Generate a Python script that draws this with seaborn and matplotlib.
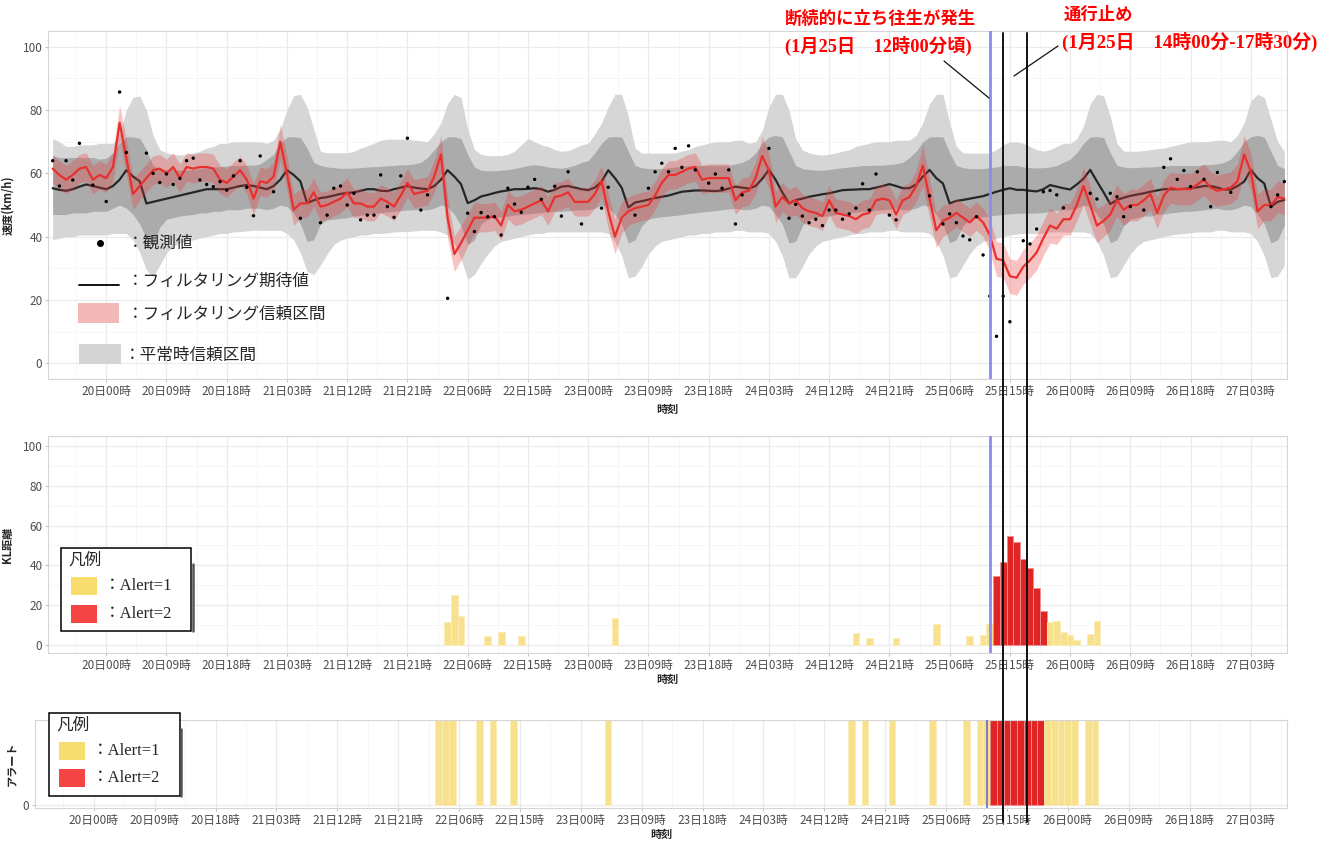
import numpy as np
import pandas as pd
import matplotlib
matplotlib.use("Agg")
import matplotlib.pyplot as plt
import matplotlib.dates as mdates
from matplotlib.lines import Line2D
from matplotlib.patches import Rectangle
from matplotlib.ticker import MultipleLocator, FixedLocator
from matplotlib.transforms import blended_transform_factory
import seaborn as sns

nan = np.nan

# ---------------------------------------------------------------- data
START = "2021-01-19 16:00"          # first hourly sample
N_HOURS = 185

# observed speed (km/h), hourly, nan = no observation
speed_obs = [
    64.0, 56.0, 64.0, 57.9, 69.5, nan, 56.3, nan,
    51.1, nan, 85.7, 66.6, nan, nan, 66.4, 60.0, 57.1, 59.8, 56.5, 58.4, 64.0, 64.8, 57.9, 56.5, 55.8, 57.4, 54.7, 59.2, 64.0, 55.6, 46.6, 65.5,
    nan, 54.2, nan, nan, nan, 45.8, nan, nan, 44.4, 46.8, 55.3, 56.0, 50.0, 53.7, 45.3, 46.8, 46.8, 59.5, 49.5, 46.1, 59.2, 71.1, nan, 48.4,
    53.2, nan, nan, 20.5, nan, nan, 47.4, 41.6, 47.6, 46.3, 46.3, 40.5, 55.3, 50.3, 47.7, 55.6, 58.1, 51.8, nan, 55.9, 46.5, 60.5, nan, 44.0,
    nan, nan, 49.0, 55.6, nan, nan, nan, 46.8, nan, 55.3, 60.5, 63.2, 60.5, 67.9, 61.9, 68.7, 61.1, nan, 56.9, 59.8, 55.3, 61.1, 44.0, 53.2,
    nan, nan, nan, 67.9, nan, nan, 45.8, 50.2, 46.5, 44.4, 45.5, 43.5, 48.4, 48.4, 45.5, 47.2, 49.0, 56.7, 48.4, 59.8, nan, 46.8, 45.3, nan,
    nan, nan, nan, 52.9, nan, 44.0, 47.2, 44.4, 40.2, 39.0, 46.3, 34.2, 21.2, 8.5, 21.2, 13.1, nan, 38.7, 37.7, 42.4, 54.2, 54.6, 53.2, 49.1,
    nan, nan, nan, 53.7, 51.9, nan, 53.7, 52.6, 46.3, 49.5, nan, 48.4, nan, nan, 61.9, 64.6, 58.1, 60.9, 55.8, 60.5, 58.1, 49.5, 60.3, nan,
    54.0, nan, nan, nan, nan, nan, 49.5, 53.2, 57.4,
]

# filtered speed estimate and half-width of its confidence interval
filtered_mean = [
    61.5, 59.5, 58.0, 59.5, 61.5, 62.0, 58.0, 59.5,
    58.5, 62.0, 76.0, 65.0, 53.5, 56.0, 58.5, 61.0, 61.5, 60.0, 62.0, 58.5, 62.0, 61.5, 62.0, 62.0, 61.5, 58.0, 57.0, 59.0, 61.0, 58.0, 52.0, 57.5,
    57.0, 59.0, 70.0, 60.0, 48.5, 50.5, 50.5, 54.0, 49.5, 50.0, 51.0, 52.0, 54.0, 50.5, 50.5, 49.5, 49.5, 52.0, 51.0, 49.5, 53.0, 57.0, 53.5, 54.0,
    54.5, 59.0, 66.0, 46.0, 34.5, 38.0, 42.0, 46.0, 46.0, 46.0, 46.5, 43.5, 50.0, 48.0, 48.5, 49.5, 50.5, 51.5, 48.0, 52.5, 53.0, 54.0, 51.0, 51.0,
    51.0, 53.5, 57.5, 48.0, 40.0, 46.0, 48.0, 49.0, 49.5, 50.0, 53.0, 57.0, 59.5, 59.5, 60.5, 61.5, 62.0, 58.0, 58.5, 58.5, 58.5, 58.5, 51.5, 54.0,
    54.5, 58.5, 65.5, 61.0, 49.5, 52.5, 50.5, 51.5, 49.0, 48.0, 47.5, 46.5, 51.5, 47.5, 47.0, 46.5, 45.5, 47.0, 47.5, 51.5, 52.0, 51.5, 47.0, 51.5,
    52.5, 56.0, 62.5, 52.0, 42.0, 45.0, 46.0, 47.5, 46.0, 44.5, 46.5, 44.5, 40.5, 33.0, 32.5, 27.5, 27.0, 30.5, 32.5, 35.0, 39.5, 43.5, 42.5, 45.5,
    45.5, 50.0, 56.0, 50.0, 43.5, 45.0, 47.0, 51.5, 48.5, 50.0, 50.0, 51.5, 53.5, 47.5, 53.0, 55.5, 55.0, 55.0, 55.0, 56.5, 58.0, 55.5, 54.5, 55.0,
    55.5, 57.5, 66.0, 60.5, 48.0, 50.0, 50.0, 52.5, 52.0,
]
filtered_halfwidth = [
    4.5, 4.5, 4.5, 4.5, 4.5, 4.5, 4.5, 4.5,
    4.5, 4.5, 5.5, 5.5, 5.0, 4.5, 4.5, 4.5, 4.5, 4.5, 4.5, 4.5, 4.5, 4.5, 4.5, 4.5, 4.5, 4.5, 4.5, 4.5, 4.5, 4.5, 5.0, 4.5,
    4.5, 4.5, 5.5, 5.5, 5.0, 4.5, 4.5, 4.5, 4.5, 4.5, 4.5, 4.5, 4.5, 4.5, 4.5, 4.5, 4.5, 4.5, 4.5, 4.5, 4.5, 4.5, 4.5, 4.5,
    4.5, 5.0, 6.0, 6.5, 5.5, 5.5, 5.0, 5.0, 4.5, 4.5, 4.5, 4.5, 4.5, 4.5, 4.5, 4.5, 4.5, 4.5, 4.5, 4.5, 4.5, 4.5, 4.5, 4.5,
    4.5, 4.5, 5.0, 5.5, 5.5, 5.0, 4.5, 4.5, 4.5, 4.5, 4.5, 4.5, 4.5, 4.5, 4.5, 4.5, 4.5, 4.5, 4.5, 4.5, 4.5, 4.5, 4.5, 4.5,
    4.5, 5.0, 6.0, 5.5, 5.0, 4.5, 4.5, 4.5, 4.5, 4.5, 4.5, 4.5, 4.5, 4.5, 4.5, 4.5, 4.5, 4.5, 4.5, 4.5, 4.5, 4.5, 4.5, 4.5,
    4.5, 5.0, 6.5, 6.0, 5.5, 5.0, 4.5, 4.5, 4.5, 4.5, 4.5, 4.5, 5.0, 5.5, 5.5, 5.5, 5.5, 5.5, 5.5, 5.5, 5.5, 5.5, 5.0, 5.0,
    5.0, 5.0, 6.0, 6.0, 5.5, 5.0, 5.0, 5.0, 5.0, 5.0, 5.0, 5.0, 5.0, 5.0, 5.0, 5.0, 5.0, 5.0, 5.0, 5.0, 5.0, 5.0, 5.0, 5.0,
    5.0, 5.5, 6.0, 6.0, 5.5, 5.0, 5.0, 5.0, 5.0,
]

# normal-condition expected speed and its confidence bands
normal_mean = [
    55.3, 54.8, 54.5, 55.0, 55.8, 56.5, 56.0, 55.5,
    55.0, 56.0, 58.0, 61.0, 59.0, 57.5, 50.5, 51.0, 51.5, 52.0, 52.5, 53.0, 53.5, 54.0, 54.5, 55.0, 55.0, 55.0, 55.0, 55.5, 56.0, 56.3, 56.0, 55.5,
    55.0, 56.0, 58.0, 61.0, 59.5, 57.5, 50.6, 51.5, 52.2, 52.5, 53.0, 53.5, 53.8, 54.0, 54.5, 55.0, 55.0, 54.5, 54.4, 55.0, 55.5, 56.0, 55.5, 55.2,
    55.0, 56.0, 58.0, 61.0, 59.0, 56.6, 50.6, 51.5, 52.7, 53.2, 53.8, 54.3, 54.6, 55.0, 55.0, 55.1, 55.3, 55.0, 54.2, 54.8, 55.8, 56.0, 55.5, 55.0,
    54.7, 55.5, 57.4, 61.0, 58.5, 55.5, 49.2, 50.8, 51.2, 51.7, 52.2, 52.6, 53.0, 53.6, 54.2, 54.4, 54.6, 54.6, 54.5, 54.4, 54.6, 55.2, 55.8, 55.5,
    55.2, 56.0, 58.3, 61.1, 58.0, 54.0, 50.5, 51.6, 52.0, 52.6, 53.0, 53.4, 53.7, 54.2, 54.7, 54.8, 54.9, 55.0, 55.0, 55.5, 56.0, 56.6, 56.0, 55.3,
    55.3, 56.5, 59.0, 61.1, 58.5, 56.8, 50.5, 51.3, 51.6, 52.0, 52.4, 52.8, 53.5, 54.2, 54.8, 55.3, 54.8, 54.8, 54.5, 54.3, 55.0, 56.3, 55.8, 55.3,
    54.9, 56.5, 58.3, 61.1, 57.5, 54.0, 50.3, 51.6, 52.3, 52.9, 53.3, 53.7, 54.2, 54.6, 55.0, 55.0, 55.0, 55.1, 55.3, 55.6, 56.0, 56.0, 55.5, 54.9,
    54.9, 56.0, 57.4, 61.1, 58.5, 56.8, 49.5, 51.0, 51.6,
]
normal_upper_outer = [
    71.0, 70.0, 68.5, 68.5, 69.0, 69.0, 69.0, 69.5,
    69.5, 69.5, 72.5, 80.0, 84.0, 84.5, 80.0, 72.0, 67.5, 66.5, 66.0, 65.8, 66.0, 66.5, 67.0, 68.0, 68.5, 69.5, 69.5, 70.0, 70.0, 70.0, 70.0, 70.0,
    69.5, 70.5, 74.0, 80.0, 84.5, 85.0, 81.0, 74.0, 67.0, 66.5, 66.5, 66.5, 66.5, 67.0, 68.0, 68.7, 69.5, 70.5, 70.8, 70.8, 70.8, 70.8, 70.5, 70.3,
    70.0, 72.5, 76.0, 82.0, 85.0, 84.0, 74.0, 67.5, 66.0, 65.6, 65.6, 65.6, 66.0, 67.0, 69.0, 71.0, 70.0, 69.0, 68.5, 67.5, 67.0, 67.2, 68.0, 69.0,
    69.5, 72.5, 76.0, 81.0, 85.0, 85.0, 78.0, 68.0, 66.4, 66.4, 66.4, 66.4, 66.4, 66.5, 67.0, 67.5, 68.5, 69.0, 69.5, 70.0, 70.0, 70.0, 70.5, 70.5,
    69.5, 70.0, 73.5, 81.0, 85.0, 85.0, 80.0, 71.0, 67.4, 66.5, 66.0, 65.8, 66.0, 66.5, 67.0, 67.5, 68.5, 69.0, 69.5, 70.0, 70.0, 70.0, 70.5, 70.5,
    70.5, 72.0, 76.0, 82.0, 85.0, 85.0, 76.0, 68.5, 66.5, 66.4, 66.4, 66.4, 66.5, 67.5, 69.0, 70.0, 70.0, 69.5, 68.5, 67.5, 67.0, 67.5, 68.5, 69.5,
    69.5, 71.0, 75.0, 82.0, 85.0, 84.5, 78.0, 69.5, 67.0, 67.0, 67.0, 67.2, 67.5, 67.8, 68.0, 68.5, 69.0, 69.5, 70.0, 70.0, 70.0, 70.2, 70.5, 70.5,
    70.0, 72.0, 76.0, 83.0, 85.0, 84.0, 77.0, 70.0, 67.0,
]
normal_upper_inner = [
    65.5, 65.0, 65.0, 65.0, 65.0, 65.0, 65.0, 64.5,
    64.8, 66.5, 69.5, 71.6, 71.5, 71.1, 67.5, 62.5, 61.5, 61.3, 61.2, 61.0, 61.1, 61.2, 61.5, 61.8, 62.0, 62.1, 62.3, 62.5, 62.5, 62.6, 62.6, 63.0,
    64.5, 66.0, 69.5, 71.5, 71.6, 71.3, 68.0, 63.5, 62.5, 62.0, 61.8, 61.6, 61.6, 61.7, 61.8, 62.0, 62.1, 62.2, 62.4, 62.5, 62.7, 62.7, 63.0, 63.5,
    65.0, 67.5, 70.0, 71.5, 71.6, 71.0, 66.0, 62.0, 61.0, 60.8, 60.8, 61.0, 61.2, 61.5, 62.0, 62.5, 62.7, 62.5, 62.0, 61.8, 61.6, 62.0, 62.5, 63.5,
    64.0, 66.5, 69.5, 71.5, 71.6, 71.5, 67.0, 62.5, 61.8, 61.5, 61.5, 61.5, 61.8, 62.0, 62.2, 62.5, 62.5, 62.5, 62.5, 62.5, 62.5, 62.5, 63.0, 63.5,
    64.5, 66.5, 69.5, 71.5, 72.0, 71.5, 67.0, 62.5, 61.5, 61.2, 61.0, 61.0, 61.2, 61.5, 61.8, 62.0, 62.2, 62.5, 62.5, 62.6, 62.6, 62.8, 63.0, 63.5,
    65.0, 67.0, 70.0, 71.5, 71.6, 71.5, 66.5, 62.5, 61.8, 61.5, 61.5, 61.5, 61.8, 62.0, 62.5, 62.5, 62.5, 62.0, 61.8, 61.7, 61.8, 62.0, 62.5, 63.5,
    64.5, 66.5, 69.5, 71.5, 71.6, 71.3, 66.5, 62.5, 62.0, 61.8, 61.8, 62.0, 62.0, 62.2, 62.3, 62.5, 62.5, 62.5, 62.5, 62.5, 62.7, 62.8, 63.0, 63.5,
    64.5, 67.0, 70.0, 71.6, 72.0, 71.5, 67.0, 62.5, 61.5,
]
normal_lower_inner = [
    47.0, 47.0, 47.0, 47.5, 47.5, 47.5, 48.0, 48.0,
    48.0, 49.0, 50.0, 49.0, 47.0, 44.0, 39.5, 37.0, 43.0, 45.5, 46.0, 46.5, 46.8, 47.0, 47.5, 47.5, 48.0, 48.0, 48.5, 48.5, 48.5, 49.0, 49.0, 49.0,
    48.5, 49.0, 50.0, 49.5, 47.5, 44.0, 38.5, 39.0, 44.0, 45.3, 45.5, 45.8, 46.0, 46.5, 46.8, 47.0, 47.4, 47.6, 47.8, 48.0, 48.2, 48.4, 48.5, 48.5,
    48.5, 49.0, 50.0, 49.5, 47.0, 43.5, 37.5, 39.0, 44.0, 45.5, 46.0, 46.3, 46.5, 46.8, 47.0, 47.2, 47.4, 47.6, 47.8, 48.0, 48.0, 48.2, 48.4, 48.5,
    48.5, 49.0, 50.0, 49.0, 47.0, 44.0, 38.0, 39.0, 43.5, 45.5, 46.0, 46.3, 46.5, 46.7, 47.0, 47.3, 47.5, 47.8, 48.0, 48.2, 48.5, 48.7, 49.0, 48.5,
    48.5, 49.0, 50.0, 49.5, 47.0, 44.0, 38.0, 38.5, 43.5, 45.5, 46.0, 46.5, 46.5, 47.0, 47.2, 47.5, 47.7, 48.0, 48.0, 48.3, 48.5, 48.7, 49.0, 48.5,
    48.5, 49.0, 50.0, 49.5, 47.0, 44.0, 38.0, 39.0, 43.5, 45.5, 46.0, 46.3, 46.5, 46.8, 47.0, 47.2, 47.4, 47.4, 47.4, 47.5, 47.6, 48.0, 48.3, 48.5,
    48.5, 49.0, 50.0, 49.5, 47.0, 44.0, 38.0, 39.0, 43.5, 45.5, 46.0, 46.5, 46.5, 47.0, 47.2, 47.5, 47.7, 48.0, 48.0, 48.2, 48.5, 48.7, 49.0, 48.5,
    48.5, 49.0, 50.0, 49.5, 47.0, 44.0, 38.0, 39.0, 43.5,
]
normal_lower_outer = [
    39.0, 39.5, 40.0, 40.0, 40.5, 40.5, 40.5, 40.5,
    40.5, 41.0, 41.0, 41.0, 39.0, 35.0, 29.5, 27.3, 31.0, 34.8, 37.0, 38.0, 38.5, 39.0, 39.5, 40.0, 40.5, 41.0, 41.0, 41.5, 41.6, 41.8, 42.0, 42.0,
    42.0, 42.0, 42.0, 41.0, 39.0, 35.0, 29.0, 28.0, 31.0, 34.5, 37.5, 38.9, 39.5, 40.0, 40.5, 40.5, 41.0, 41.0, 41.2, 41.5, 41.6, 41.6, 41.8, 42.0,
    42.0, 42.0, 41.5, 40.5, 38.0, 33.0, 26.5, 28.0, 31.5, 34.5, 37.0, 38.5, 39.0, 39.5, 40.0, 40.5, 41.0, 41.0, 41.5, 41.5, 41.5, 41.5, 41.5, 41.5,
    41.5, 41.5, 41.5, 41.0, 38.5, 34.0, 27.0, 27.5, 30.5, 34.5, 37.0, 38.5, 39.0, 39.5, 40.0, 40.5, 40.5, 41.0, 41.0, 41.5, 41.5, 41.5, 42.0, 42.0,
    41.5, 41.5, 41.5, 41.0, 38.5, 34.0, 27.0, 27.0, 30.5, 34.5, 37.0, 38.5, 39.0, 39.5, 40.0, 40.5, 41.0, 41.0, 41.5, 41.5, 41.5, 42.0, 42.0, 41.5,
    41.5, 41.5, 41.5, 41.0, 38.5, 34.0, 27.0, 27.5, 31.0, 34.5, 37.0, 38.5, 39.0, 39.5, 40.0, 40.5, 40.8, 41.0, 41.0, 41.0, 41.2, 41.5, 41.5, 41.5,
    41.5, 41.5, 41.5, 41.0, 38.5, 34.0, 27.0, 27.5, 31.0, 34.5, 37.0, 38.5, 39.0, 39.5, 40.0, 40.5, 40.8, 41.0, 41.2, 41.5, 41.5, 41.5, 42.0, 42.0,
    41.5, 41.5, 41.5, 41.0, 38.5, 34.0, 27.0, 27.5, 31.0,
]

# hours flagged by the detector: KL distance and alert level
alert_times = [
    "22日03時", "22日04時", "22日05時", "22日09時", "22日11時", "22日14時",
    "23日04時", "24日16時", "24日18時", "24日22時",
    "25日04時", "25日09時", "25日11時", "25日12時",
    "25日13時", "25日14時", "25日15時", "25日16時", "25日17時", "25日18時", "25日19時", "25日20時",
    "25日21時", "25日22時", "25日23時", "26日00時", "26日01時", "26日03時", "26日04時",
]
kl_values = [
    11.4, 25.1, 14.6, 4.5, 6.4, 4.5,
    13.4, 6.0, 3.5, 3.5,
    10.4, 4.5, 5.0, 10.6,
    34.7, 41.9, 54.9, 51.6, 43.2, 38.5, 28.8, 17.1,
    11.4, 12.2, 6.7, 5.0, 2.5, 5.5, 12.0,
]
alert_levels = [
    1, 1, 1, 1, 1, 1,
    1, 1, 1, 1,
    1, 1, 1, 1,
    2, 2, 2, 2, 2, 2, 2, 2,
    1, 1, 1, 1, 1, 1, 1,
]

tick_labels = ["20日00時", "20日09時", "20日18時", "21日03時", "21日12時", "21日21時",
               "22日06時", "22日15時", "23日00時", "23日09時", "23日18時", "24日03時",
               "24日12時", "24日21時", "25日06時", "25日15時", "26日00時", "26日09時",
               "26日18時", "27日03時"]

stuck_onset = "2021-01-25 12:00"      # intermittent stuck vehicles
closure_start = "2021-01-25 14:00"    # road closure
closure_end = "2021-01-25 17:30"

# ---------------------------------------------------------------- frames
def label_time(lab):
    return pd.Timestamp(2021, 1, int(lab[:2]), int(lab[3:5]))

times = pd.date_range(START, periods=N_HOURS, freq="h")
speed = pd.DataFrame({
    "time": times,
    "observed": speed_obs,
    "filtered": filtered_mean,
    "filt_hw": filtered_halfwidth,
    "normal": normal_mean,
    "hi_outer": normal_upper_outer,
    "hi_inner": normal_upper_inner,
    "lo_inner": normal_lower_inner,
    "lo_outer": normal_lower_outer,
})
alerts = pd.DataFrame({
    "time": [label_time(s) for s in alert_times],
    "kl": kl_values,
    "level": alert_levels,
})

# ---------------------------------------------------------------- style
sns.set_theme(style="white")
plt.rcParams["font.family"] = ["Noto Sans CJK JP", "DejaVu Sans"]
SERIF = ["Liberation Serif", "Noto Sans CJK JP"]

YELLOW_BAR = "#F8E18C"
RED_BAR = "#E12525"
YELLOW_KEY = "#F7DC6F"
RED_KEY = "#F44444"
TICK_COLOR = "#4D4D4D"

W, H = 1337, 843
fig = plt.figure(figsize=(W / 100, H / 100), dpi=100)


def fig_box(left, top, right, bottom):
    return [left / W, 1 - bottom / H, (right - left) / W, (bottom - top) / H]


def fx(px):
    return px / W


def fy(py):
    return 1 - py / H


ax_speed = fig.add_axes(fig_box(48, 31, 1287, 379))
ax_kl = fig.add_axes(fig_box(48, 436, 1287, 653))
ax_alert = fig.add_axes(fig_box(35, 720, 1287, 808))   # narrower y labels -> wider panel

hour = pd.Timedelta(hours=1)
x_lo = times[0] - 0.7 * hour
x_hi = times[-1] + 0.4 * hour
tick_pos = [mdates.date2num(label_time(s)) for s in tick_labels]
minor_pos = [t + 4.5 / 24 for t in tick_pos] + [tick_pos[0] - 4.5 / 24]


def style_axes(ax, yticks, ylim, xlabel_pad):
    ax.set_facecolor("white")
    ax.set_xlim(x_lo, x_hi)
    ax.set_ylim(*ylim)
    ax.xaxis.set_major_locator(FixedLocator(tick_pos))
    ax.xaxis.set_minor_locator(FixedLocator(minor_pos))
    ax.set_xticklabels(tick_labels)
    ax.set_yticks(yticks)
    ax.grid(True, which="major", color="#EBEBEB", lw=0.9)
    ax.grid(True, which="minor", color="#F5F5F5", lw=0.6)
    ax.set_axisbelow(True)
    ax.tick_params(axis="both", which="major", labelsize=8.5, labelcolor=TICK_COLOR,
                   color="#B5B5B5", length=2.5, width=0.6, pad=1.5, bottom=True, left=True)
    ax.tick_params(axis="both", which="minor", length=0)
    for sp in ax.spines.values():
        sp.set_color("#D5D5D5")
        sp.set_linewidth(0.8)
    ax.set_xlabel("時刻", fontsize=8, fontweight="bold", labelpad=xlabel_pad)


# ---------------------------------------------------------------- speed panel
ax = ax_speed
style_axes(ax, [0, 20, 40, 60, 80, 100], (-5, 105), 4)
ax.yaxis.set_minor_locator(MultipleLocator(10))
ax.fill_between(speed["time"], speed["lo_outer"], speed["hi_outer"], color="#D6D6D6", lw=0, zorder=1)
ax.fill_between(speed["time"], speed["lo_inner"], speed["hi_inner"], color="#ABABAB", lw=0, zorder=1.1)
sns.lineplot(data=speed, x="time", y="normal", ax=ax, color="#262626", lw=1.6, zorder=2)
ax.fill_between(speed["time"], speed["filtered"] - speed["filt_hw"],
                speed["filtered"] + speed["filt_hw"], color="#F03A3A", alpha=0.3, lw=0, zorder=2.5)
sns.lineplot(data=speed, x="time", y="filtered", ax=ax, color="#E8302E", lw=1.6, zorder=3)
sns.scatterplot(data=speed, x="time", y="observed", ax=ax, color="black", s=6,
                edgecolor="none", zorder=4)
ax.axvline(pd.Timestamp(stuck_onset), color="#8B8BF0", lw=2, zorder=5)
ax.set_xlim(x_lo, x_hi)
ax.set_ylabel("速度(km/h)", fontsize=8, fontweight="bold", labelpad=6)
ax.set_xlabel("時刻", fontsize=8, fontweight="bold", labelpad=4)

# key for the speed panel
key_font = dict(fontsize=12, va="center", ha="left", transform=fig.transFigure, zorder=10)
fig.add_artist(Line2D([fx(99.5)], [fy(243)], marker="o", ms=4, color="black", lw=0,
                      transform=fig.transFigure, zorder=10))
fig.text(fx(127), fy(243), "：観測値", **key_font)
fig.add_artist(Line2D([fx(79), fx(119)], [fy(285), fy(285)], color="black", lw=1.3,
                      transform=fig.transFigure, zorder=10))
fig.text(fx(127), fy(281), "：フィルタリング期待値", **key_font)
fig.add_artist(Rectangle((fx(78), fy(323)), fx(119) - fx(78), fy(303) - fy(323),
                         color="#F3B9B9", lw=0, transform=fig.transFigure, zorder=10))
fig.text(fx(127), fy(314), "：フィルタリング信頼区間", **key_font)
fig.add_artist(Rectangle((fx(79), fy(364)), fx(121) - fx(79), fy(344) - fy(364),
                         color="#D4D4D4", lw=0, transform=fig.transFigure, zorder=10))
fig.text(fx(124), fy(355), "：平常時信頼区間", **key_font)

# ---------------------------------------------------------------- KL panel
ax = ax_kl
style_axes(ax, [0, 20, 40, 60, 80, 100], (-4, 105), 1)
ax.yaxis.set_minor_locator(MultipleLocator(10))
bar_colors = [YELLOW_BAR if lv == 1 else RED_BAR for lv in alerts["level"]]
edge_colors = ["#FBEDB8" if lv == 1 else "#F09090" for lv in alerts["level"]]
ax.bar(alerts["time"], alerts["kl"], width=1 / 24, color=bar_colors,
       edgecolor=edge_colors, linewidth=0.6, zorder=2)
ax.axvline(pd.Timestamp(stuck_onset), color="#8B8BF0", lw=2, zorder=5)
ax.set_xlim(x_lo, x_hi)
ax.set_ylabel("KL距離", fontsize=8, fontweight="bold", labelpad=6)

# ---------------------------------------------------------------- alert panel
ax = ax_alert
style_axes(ax, [0], (-0.035, 1.0), 1)
ax.bar(alerts["time"], np.ones(len(alerts)), width=1 / 24, color=bar_colors,
       edgecolor=edge_colors, linewidth=0.6, zorder=2)
ax.axvline(pd.Timestamp(stuck_onset), color="#6A6ACF", lw=1.2, zorder=5)
ax.set_xlim(x_lo, x_hi)
ax.set_ylabel("アラート", fontsize=8, fontweight="bold", labelpad=3)


# ---------------------------------------------------------------- boxed keys
def alert_key(left, top, right, bottom, title_y, y1, y2, patch_x0, patch_x1, text_x):
    fig.add_artist(Rectangle((fx(left), fy(bottom)), fx(right) - fx(left), fy(top) - fy(bottom),
                             facecolor="white", edgecolor="black", lw=1.1,
                             transform=fig.transFigure, zorder=10))
    fig.add_artist(Line2D([fx(right + 1.5), fx(right + 1.5)], [fy(top + 16), fy(bottom)],
                          color="#555555", lw=1.8, transform=fig.transFigure, zorder=10))
    fig.text(fx(left + 7), fy(title_y), "凡例", fontsize=12, family=SERIF,
             va="center", ha="left", zorder=11)
    for yc, col, lab in ((y1, YELLOW_KEY, "：Alert=1"), (y2, RED_KEY, "：Alert=2")):
        fig.add_artist(Rectangle((fx(patch_x0), fy(yc + 9)), fx(patch_x1) - fx(patch_x0),
                                 fy(yc - 9) - fy(yc + 9), color=col, lw=0,
                                 transform=fig.transFigure, zorder=11))
        fig.text(fx(text_x), fy(yc), lab, fontsize=12, family=SERIF,
                 va="center", ha="left", zorder=11)


alert_key(61, 548, 191, 631, 561, 586, 614, 71, 97, 104)
alert_key(49, 713, 180, 796, 726, 751, 778, 59, 85, 92)

# ---------------------------------------------------------------- event markers
trans = blended_transform_factory(ax_speed.transData, fig.transFigure)
for t in (closure_start, closure_end):
    xv = mdates.date2num(pd.Timestamp(t))
    fig.add_artist(Line2D([xv, xv], [fy(33), fy(822)], color="#111111", lw=1.4,
                          transform=trans, zorder=12))

red_txt = dict(color="#FF0000", fontweight="bold", va="center", ha="left", zorder=12)
fig.text(fx(785), fy(19), "断続的に立ち往生が発生", fontsize=12.5, **red_txt)
fig.text(fx(785), fy(46), "(1月25日　12時00分頃)", fontsize=13.2, family=SERIF, **red_txt)
fig.text(fx(1064), fy(15), "通行止め", fontsize=12.5, **red_txt)
fig.text(fx(1062), fy(42), "(1月25日　14時00分-17時30分)", fontsize=13.6, family=SERIF, **red_txt)
fig.add_artist(Line2D([fx(944), fx(989)], [fy(61), fy(98)], color="#111111", lw=0.9,
                      transform=fig.transFigure, zorder=12))
fig.add_artist(Line2D([fx(1058), fx(1014)], [fy(46), fy(76)], color="#111111", lw=0.9,
                      transform=fig.transFigure, zorder=12))

fig.savefig("out.png", dpi=100, facecolor="white")
